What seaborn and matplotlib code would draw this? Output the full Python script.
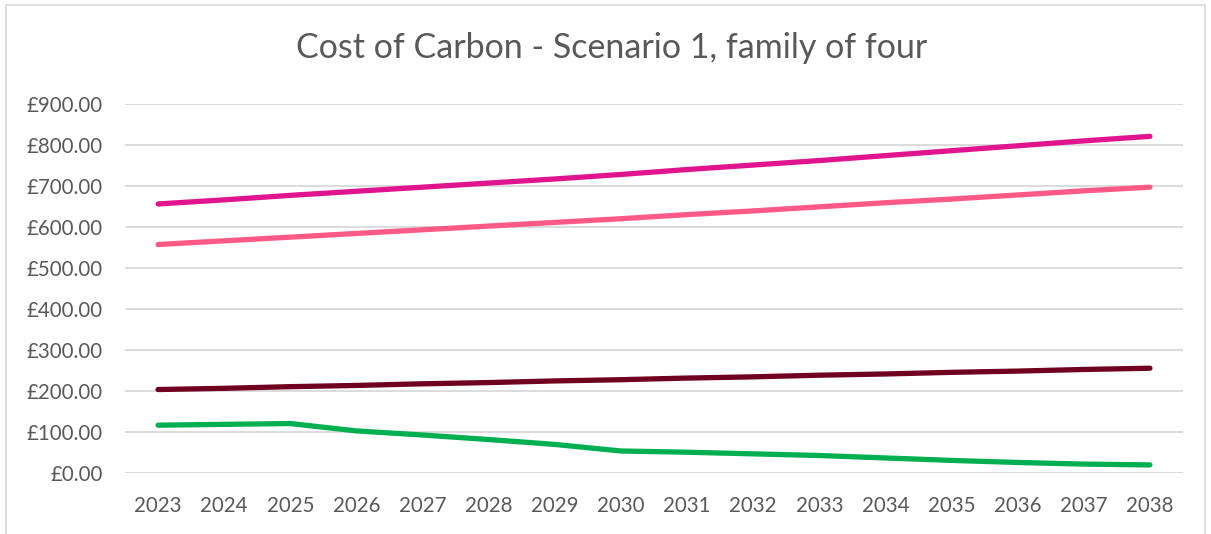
import numpy as np
import pandas as pd
import matplotlib
matplotlib.use("Agg")
import matplotlib.pyplot as plt
import seaborn as sns
from matplotlib.patches import Rectangle

years = list(range(2023, 2039))

# one series per line (top to bottom)
series_a = [656, 666, 677, 687, 697, 707, 717, 728, 740, 751, 762, 774, 786, 798, 810, 821]
series_b = [557, 566, 575, 584, 593, 602, 611, 620, 630, 639, 649, 659, 668, 678, 688, 697]
series_c = [203, 206, 210, 213, 217, 220, 224, 227, 231, 234, 238, 241, 245, 248, 252, 255]
series_d = [116, 118, 120, 102, 92, 81, 69, 53, 50, 46, 42, 36, 30, 25, 21, 19]

names = ["A", "B", "C", "D"]
colours = ["#E0148F", "#FF5A87", "#700020", "#00B050"]
y_ticks = list(range(0, 1000, 100))

df = pd.DataFrame({"Year": years, "A": series_a, "B": series_b,
                   "C": series_c, "D": series_d})
long_df = df.melt(id_vars="Year", var_name="Series", value_name="Cost")

sns.set_style("white")
plt.rcParams["font.family"] = ["Lato", "DejaVu Sans"]

fig = plt.figure(figsize=(12.11, 5.34), dpi=100)
ax = fig.add_axes([125 / 1211, 1 - 472.7 / 534, (1183 - 125) / 1211, (472.7 - 104) / 534])

sns.lineplot(data=long_df, x="Year", y="Cost", hue="Series", hue_order=names,
             palette=colours, linewidth=3.8, legend=False, ax=ax,
             solid_capstyle="round")

ax.set_xlim(2022.5, 2038.5)
ax.set_ylim(0, 900)
ax.set_xticks(years)
ax.set_xticklabels([str(y) for y in years])
ax.set_yticks(y_ticks)
ax.set_yticklabels([f"£{v:.2f}" for v in y_ticks])
ax.tick_params(axis="both", length=0, labelsize=14.8, colors="#595959")
ax.tick_params(axis="x", pad=17)
ax.tick_params(axis="y", pad=16)
ax.grid(axis="y", color="#D9D9D9", linewidth=1.3)
ax.set_axisbelow(True)
for s in ax.spines.values():
    s.set_visible(False)
ax.set_xlabel("")
ax.set_ylabel("")

fig.text(0.505, 1 - 48 / 534, "Cost of Carbon - Scenario 1, family of four",
         ha="center", va="center", fontsize=24.5, color="#595959")

fig.patches.append(Rectangle((6 / 1211, -0.01), (1205 - 6) / 1211, 1 - 5 / 534 + 0.01,
                             transform=fig.transFigure, fill=False,
                             edgecolor="#D9D9D9", linewidth=1.2))

fig.savefig("out.png", dpi=100)
